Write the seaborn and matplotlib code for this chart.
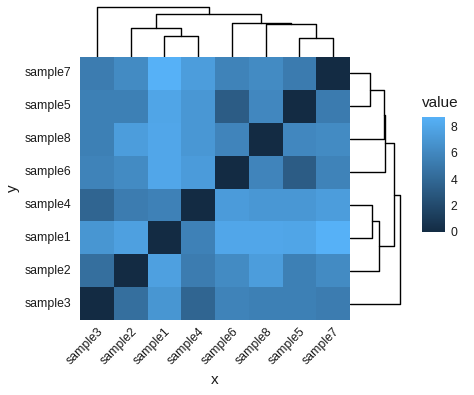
import numpy as np
import pandas as pd
import matplotlib
matplotlib.use("Agg")
import matplotlib.pyplot as plt
import seaborn as sns
from matplotlib.colors import LinearSegmentedColormap

# pairwise distances between the samples (sample1..sample8)
samples = ["sample1", "sample2", "sample3", "sample4",
           "sample5", "sample6", "sample7", "sample8"]
dist = [
    [0.0, 7.6, 6.9, 5.6, 7.9, 8.0, 8.7, 8.0],
    [7.6, 0.0, 4.4, 5.3, 5.5, 6.2, 6.2, 7.4],
    [6.9, 4.4, 0.0, 3.8, 5.5, 5.7, 5.3, 5.5],
    [5.6, 5.3, 3.8, 0.0, 7.0, 7.3, 7.4, 7.0],
    [7.9, 5.5, 5.5, 7.0, 0.0, 3.2, 5.2, 6.0],
    [8.0, 6.2, 5.7, 7.3, 3.2, 0.0, 5.7, 5.8],
    [8.7, 6.2, 5.3, 7.4, 5.2, 5.7, 0.0, 6.2],
    [8.0, 7.4, 5.5, 7.0, 6.0, 5.8, 6.2, 0.0],
]

# clustering result: leaf order and merges (cK = result of merge K)
leaf_order = ["sample3", "sample2", "sample1", "sample4",
              "sample6", "sample8", "sample5", "sample7"]
merge_left = ["sample1", "sample5", "sample2", "sample8", "sample6", "c2", "sample3"]
merge_right = ["sample4", "sample7", "c0", "c1", "c3", "c4", "c5"]
merge_height = [21.5, 19.5, 29.0, 33.5, 34.5, 43.5, 50.0]

sns.set_style("white")
plt.rcParams["font.family"] = ["Liberation Sans", "DejaVu Sans"]

df = pd.DataFrame(dist, index=samples, columns=samples)
mat = df.loc[leaf_order[::-1], leaf_order]

cmap = LinearSegmentedColormap.from_list("gg", ["#132B43", "#56B1F7"])
txt = "#1A1A1A"

W, H = 474, 395
fig = plt.figure(figsize=(W / 100, H / 100), dpi=100)


def box(x0, y0, x1, y1):
    return [x0 / W, 1 - y1 / H, (x1 - x0) / W, (y1 - y0) / H]


ax = fig.add_axes(box(80, 57, 350, 320))
ax_top = fig.add_axes(box(80, 5, 350, 57))
ax_right = fig.add_axes(box(350, 57, 402, 320))
cax = fig.add_axes(box(422, 117, 445, 232))

sns.heatmap(mat, ax=ax, cmap=cmap, vmin=0, vmax=df.values.max(), cbar_ax=cax)

ax.set_xticklabels(ax.get_xticklabels(), rotation=45, ha="right",
                   rotation_mode="anchor")
ax.set_yticklabels(ax.get_yticklabels(), rotation=0)
ax.tick_params(length=0, labelsize=8.8, labelcolor=txt)
ax.tick_params(axis="y", pad=6)
ax.tick_params(axis="x", pad=4)
ax.set_xlabel("x", fontsize=11, labelpad=4, color=txt)
ax.set_ylabel("y", fontsize=11, labelpad=4, color=txt)

cbar = ax.collections[0].colorbar
cbar.outline.set_visible(False)
cbar.set_ticks([0, 2, 4, 6, 8])
cax.tick_params(axis="y", direction="in", length=4.5, width=0.6, color="white",
                left=True, right=True, labelsize=8.8, labelcolor=txt, pad=4)
fig.text(422 / W, 1 - 103 / H, "value", fontsize=11, ha="left", va="center",
         color=txt)


def draw_dendro(dax, top):
    pos = {name: i + 0.5 for i, name in enumerate(leaf_order)}
    hts = {name: 0.0 for name in leaf_order}
    for k, (a, b, h) in enumerate(zip(merge_left, merge_right, merge_height)):
        xs = [pos[a], pos[a], pos[b], pos[b]]
        ys = [hts[a], h, h, hts[b]]
        if top:
            dax.plot(xs, ys, color="black", lw=1.0)
        else:
            dax.plot(ys, xs, color="black", lw=1.0)
        pos["c%d" % k] = (pos[a] + pos[b]) / 2
        hts["c%d" % k] = h
    lim = max(merge_height) * 1.04
    if top:
        dax.set_xlim(0, len(leaf_order))
        dax.set_ylim(0, lim)
    else:
        dax.set_ylim(0, len(leaf_order))
        dax.set_xlim(0, lim)
    dax.axis("off")


draw_dendro(ax_top, True)
draw_dendro(ax_right, False)

fig.savefig("out.png", dpi=100)
